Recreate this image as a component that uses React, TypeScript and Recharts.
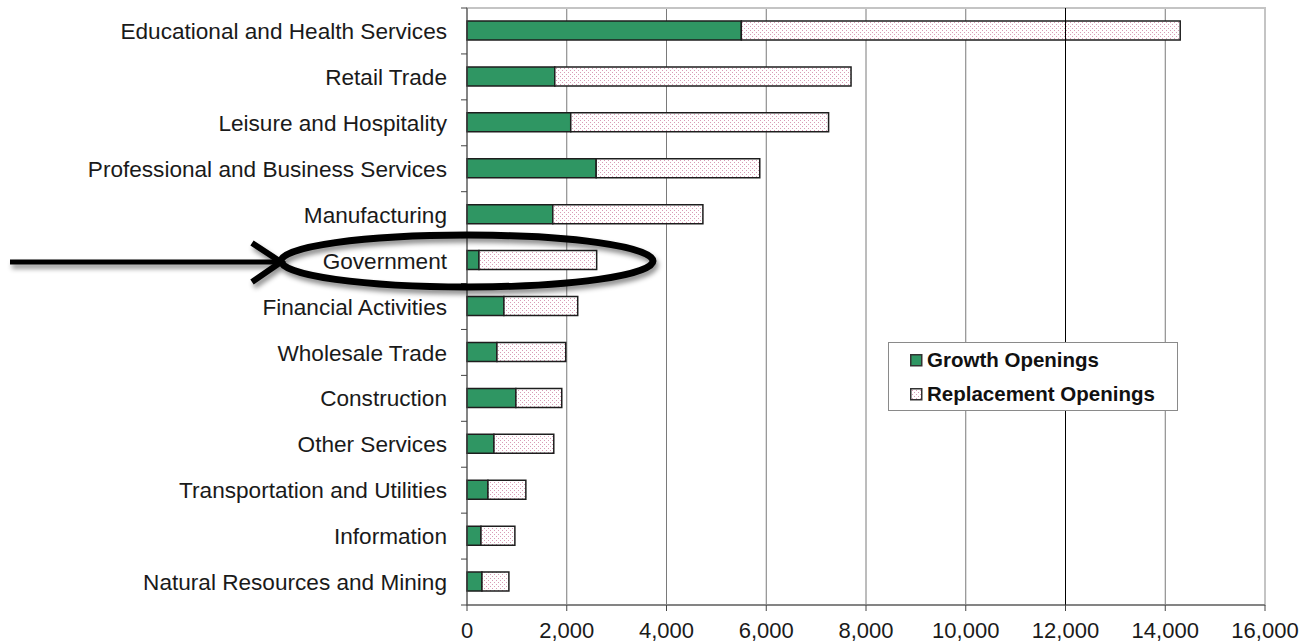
import {
  Bar,
  BarChart,
  CartesianGrid,
  Legend,
  ReferenceArea,
  ReferenceLine,
  XAxis,
  YAxis,
} from "recharts";

const industries = [
  "Educational and Health Services",
  "Retail Trade",
  "Leisure and Hospitality",
  "Professional and Business Services",
  "Manufacturing",
  "Government",
  "Financial Activities",
  "Wholesale Trade",
  "Construction",
  "Other Services",
  "Transportation and Utilities",
  "Information",
  "Natural Resources and Mining",
];
const growthOpenings = [5500, 1760, 2080, 2590, 1720, 240, 740, 600, 980, 540, 420, 280, 300];
const replacementOpenings = [8800, 5940, 5170, 3280, 3010, 2360, 1480, 1380, 920, 1200, 760, 680, 540];
const xTicks = [0, 2000, 4000, 6000, 8000, 10000, 12000, 14000, 16000];

const W = 1305;
const H = 644;
const TOP = 8;
const X_AXIS_H = 39;
const band = (H - TOP - X_AXIS_H) / industries.length;

const font = "'Liberation Sans', Arial, sans-serif";

const data = industries.map((name, i) => ({
  name,
  growth: growthOpenings[i],
  replacement: replacementOpenings[i],
}));

function CatTick(props: any) {
  const { x, y, payload, index } = props;
  const ax = x + 20;
  return (
    <g>
      <text x={x} y={y} dy="0.36em" textAnchor="end" fontSize={22.6} fill="#1a1a1a" fontFamily={font}>
        {payload.value}
      </text>
      <line x1={ax - 6} x2={ax} y1={y - band / 2} y2={y - band / 2} stroke="#444" />
      {index === industries.length - 1 && (
        <line x1={ax - 6} x2={ax} y1={y + band / 2} y2={y + band / 2} stroke="#444" />
      )}
    </g>
  );
}

function LegendBox() {
  return (
    <div
      style={{
        width: 290,
        height: 69,
        boxSizing: "border-box",
        border: "1px solid #8a8a8a",
        background: "#fff",
        fontFamily: font,
        fontWeight: "bold",
        fontSize: 20.5,
        color: "#111",
        padding: "0 0 0 21px",
      }}
    >
      {[
        { label: "Growth Openings", fill: "#2f9663" },
        { label: "Replacement Openings", fill: "url(#dots)" },
      ].map((it) => (
        <div key={it.label} style={{ display: "flex", alignItems: "center", height: 34 }}>
          <svg width={13} height={13} style={{ marginRight: 4 }}>
            <rect x={0.75} y={0.75} width={11} height={11} fill={it.fill} stroke="#333" strokeWidth={1.5} />
          </svg>
          <span>{it.label}</span>
        </div>
      ))}
    </div>
  );
}

export default function App() {
  return (
    <div style={{ position: "absolute", left: 0, top: 0, width: W, height: H, background: "#fff" }}>
      <svg width={0} height={0} style={{ position: "absolute" }}>
        <defs>
          <pattern id="dots" patternUnits="userSpaceOnUse" width={4} height={4}>
            <rect width={4} height={4} fill="#fff" />
            <rect x={0} y={0} width={1} height={1} fill="#d99bb6" />
            <rect x={2} y={2} width={1} height={1} fill="#d99bb6" />
          </pattern>
        </defs>
      </svg>
      <BarChart
        width={W}
        height={H}
        data={data}
        layout="vertical"
        margin={{ top: TOP, right: 40, left: 0, bottom: 0 }}
        barSize={19}
      >
        <ReferenceArea x1={0} x2={16000} fill="none" stroke="#c4c4c4" strokeWidth={2} />
        <CartesianGrid horizontal={false} stroke="#7a7a7a" />
        <ReferenceLine x={12000} stroke="#000" />
        <XAxis
          type="number"
          domain={[0, 16000]}
          ticks={xTicks}
          tickFormatter={(v: number) => v.toLocaleString("en-US")}
          height={X_AXIS_H}
          stroke="#444"
          tickSize={6}
          tickMargin={11}
          tick={{ fontSize: 22, fill: "#1a1a1a", fontFamily: font }}
          interval={0}
        />
        <YAxis
          type="category"
          dataKey="name"
          width={467}
          stroke="#444"
          tickLine={false}
          tickSize={0}
          tickMargin={20}
          interval={0}
          tick={<CatTick />}
        />
        <Bar dataKey="growth" stackId="a" fill="#2f9663" stroke="#1e1e1e" strokeWidth={1.5} isAnimationActive={false} />
        <Bar dataKey="replacement" stackId="a" fill="url(#dots)" stroke="#1e1e1e" strokeWidth={1.5} isAnimationActive={false} />
        <Legend
          layout="vertical"
          align="center"
          verticalAlign="middle"
          wrapperStyle={{ left: 888, top: 342, width: 290 }}
          content={() => <LegendBox />}
        />
      </BarChart>
      <svg
        width={W}
        height={H}
        style={{ position: "absolute", left: 0, top: 0, pointerEvents: "none" }}
      >
        <defs>
          <filter id="shadow" x="-10%" y="-50%" width="120%" height="200%">
            <feDropShadow dx={2} dy={4} stdDeviation={2.5} floodColor="#000" floodOpacity={0.45} />
          </filter>
        </defs>
        <g filter="url(#shadow)">
          <ellipse cx={467} cy={261} rx={186} ry={26} fill="none" stroke="#000" strokeWidth={7} />
          <line x1={10} y1={262} x2={276} y2={262} stroke="#000" strokeWidth={5} />
          <polyline points="252,243 281,262 252,282" fill="none" stroke="#000" strokeWidth={6} />
        </g>
      </svg>
    </div>
  );
}
